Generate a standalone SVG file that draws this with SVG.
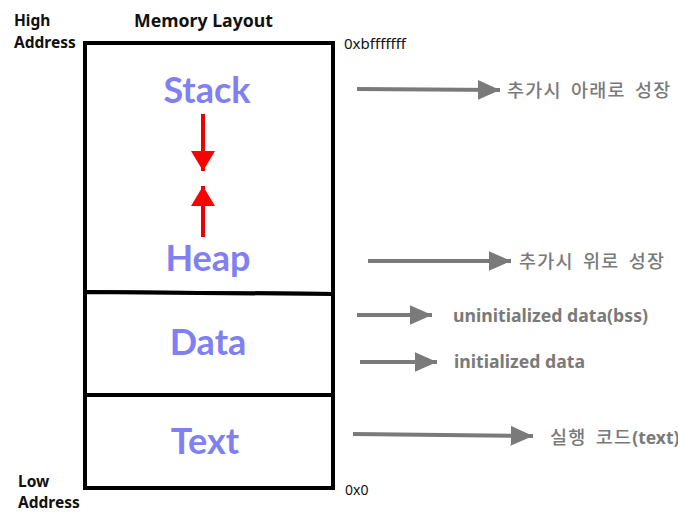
<svg xmlns="http://www.w3.org/2000/svg" width="678" height="512" viewBox="0 0 678 512">
  <style>
    .lbl { font-family: "Noto Sans", "Noto Sans CJK KR", sans-serif; fill: #111; }
    .lblb { font-family: "Noto Sans", "Noto Sans CJK KR", sans-serif; font-weight: bold; fill: #111; font-size: 15.5px; }
    .title { font-family: "Noto Sans", "Noto Sans CJK KR", sans-serif; font-weight: bold; fill: #111; font-size: 17.5px; }
    .seg { font-family: Lato, "Noto Sans", sans-serif; font-weight: bold; font-size: 36px; fill: #8080f4; text-anchor: middle; }
    .note { font-family: "Noto Sans", "Noto Sans CJK KR", sans-serif; font-weight: bold; font-size: 17.5px; fill: #7a7a7a; }
    .knote { font-family: "Noto Sans CJK KR", "Noto Sans", sans-serif; font-weight: 500; font-size: 18.5px; fill: #7a7a7a; word-spacing: 4px; letter-spacing: 1.2px; }
    .latin { font-family: "Noto Sans", sans-serif; font-weight: bold; font-size: 17.5px; letter-spacing: 0; }
    .box { fill: #fff; stroke: #000; stroke-width: 4; }
    .grow { stroke: #e00; stroke-width: 4; fill: none; }
    .ptr { stroke: #7a7a7a; stroke-width: 4; fill: none; }
  </style>
  <defs>
    <marker id="redHead" markerWidth="6" markerHeight="6" refX="5" refY="3" orient="auto" markerUnits="strokeWidth">
      <path d="M0,0 L5,3 L0,6 Z" fill="#f00"/>
    </marker>
    <marker id="grayHead" markerWidth="6" markerHeight="5" refX="5.6" refY="2.5" orient="auto" markerUnits="strokeWidth">
      <path d="M0,0 L5.6,2.5 L0,5 Z" fill="#7a7a7a"/>
    </marker>
  </defs>
  <rect width="678" height="512" fill="#fff"/>

  <!-- address labels and title -->
  <text class="lblb" x="14" y="26">High</text>
  <text class="lblb" x="14" y="48">Address</text>
  <text class="title" x="134" y="27" textLength="139" lengthAdjust="spacingAndGlyphs">Memory Layout</text>
  <text class="lbl" x="344" y="49" font-size="14" textLength="62" lengthAdjust="spacingAndGlyphs">0xbfffffff</text>
  <text class="lblb" x="18" y="487" font-size="15">Low</text>
  <text class="lblb" x="18" y="508" font-size="15">Address</text>
  <text class="lbl" x="345" y="495" font-size="14">0x0</text>

  <!-- memory segments -->
  <g id="stack-heap">
    <path class="box" d="M85,43 L333,43 L333,294 L85,292 Z"/>
    <text class="seg" x="207" y="103">Stack</text>
    <text class="seg" x="208" y="271">Heap</text>
  </g>
  <g id="data">
    <path class="box" d="M85,292 L333,294 L333,395 L85,395 Z"/>
    <text class="seg" x="208" y="355">Data</text>
  </g>
  <g id="text">
    <rect class="box" x="85" y="395" width="248" height="93"/>
    <text class="seg" x="205" y="454">Text</text>
  </g>

  <!-- growth arrows and pointers to the side notes -->
  <g id="connectors">
    <line class="grow" x1="203" y1="114" x2="203" y2="171" marker-end="url(#redHead)"/>
    <line class="grow" x1="203" y1="237" x2="203" y2="186" marker-end="url(#redHead)"/>
    <line class="ptr" x1="357" y1="89" x2="500" y2="90" marker-end="url(#grayHead)"/>
    <line class="ptr" x1="368" y1="261" x2="511" y2="261" marker-end="url(#grayHead)"/>
    <line class="ptr" x1="357" y1="315" x2="432" y2="315" marker-end="url(#grayHead)"/>
    <line class="ptr" x1="360" y1="362" x2="437" y2="362" marker-end="url(#grayHead)"/>
    <line class="ptr" x1="353" y1="434" x2="533" y2="436" marker-end="url(#grayHead)"/>
  </g>

  <g id="notes">
    <text class="knote" x="507" y="97">추가시 아래로 성장</text>
    <text class="knote" x="519" y="268">추가시 위로 성장</text>
    <text class="note" x="453" y="322" textLength="195" lengthAdjust="spacingAndGlyphs">uninitialized data(bss)</text>
    <text class="note" x="454" y="368" textLength="131" lengthAdjust="spacingAndGlyphs">initialized data</text>
    <text class="knote" x="550" y="444">실행 코드<tspan class="latin">(text)</tspan></text>
  </g>
</svg>
